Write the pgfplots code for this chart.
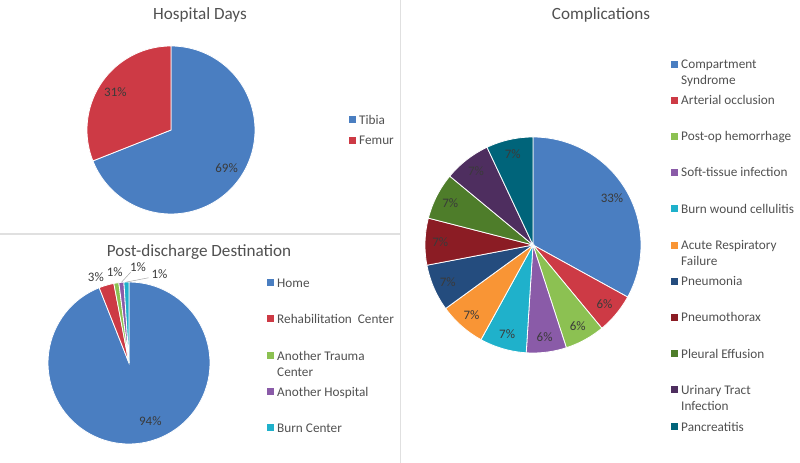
\documentclass[border=0pt]{standalone}
\usepackage{pgfplots}
\pgfplotsset{compat=1.18}
\usepackage{pgfplotstable}
\usepackage{fontspec}
\setmainfont{Carlito}

\definecolor{cBlue}{HTML}{4A7EC1}
\definecolor{cRed}{HTML}{CD3A45}
\definecolor{cGreen}{HTML}{8CC152}
\definecolor{cPurple}{HTML}{8A5BA8}
\definecolor{cCyan}{HTML}{1FB1CB}
\definecolor{cOrange}{HTML}{F99535}
\definecolor{cNavy}{HTML}{244C7E}
\definecolor{cMaroon}{HTML}{8B1C24}
\definecolor{cOlive}{HTML}{4E7D2A}
\definecolor{cPlum}{HTML}{4E2E5F}
\definecolor{cTeal}{HTML}{00647A}
\definecolor{txt}{HTML}{505050}
\definecolor{lbl}{HTML}{3A3A3A}
\definecolor{rulegray}{HTML}{E0E0E0}
\definecolor{leadgray}{HTML}{A6A6A6}

% value, colour, label radius and angle (999 = middle of slice),
% leader line end as radius and angle (radius 0 = no leader)
\pgfplotstableread{
value color lr la er ea
69 cBlue 0.8 999 0 0
31 cRed 0.8 999 0 0
}\hospdays

\pgfplotstableread{
value color lr la er ea
94 cBlue 0.77 -70 0 0
3 cRed 1.14 111 0 0
1 cGreen 1.13 99 0 0
1 cPurple 1.19 84.6 1.12 89
1 cCyan 1.16 71 1.08 77
}\discharge

\pgfplotstableread{
value color lr la er ea
33 cBlue 0.85 999 0 0
6 cRed 0.86 999 0 0
6 cGreen 0.86 999 0 0
6 cPurple 0.86 999 0 0
7 cCyan 0.86 999 0 0
7 cOrange 0.86 999 0 0
7 cNavy 0.86 999 0 0
7 cMaroon 0.86 999 0 0
7 cOlive 0.86 999 0 0
7 cPlum 0.86 999 0 0
7 cTeal 0.86 999 0 0
}\complications

% slices clockwise from 12 o'clock, as Excel draws them
\newcommand\piechart[1]{%
  \gdef\cum{0}%
  \pgfplotstablegetrowsof{#1}%
  \pgfmathtruncatemacro\last{\pgfplotsretval-1}%
  \foreach \i in {0,...,\last}{%
    \pgfplotstablegetelem{\i}{value}\of{#1}\let\v\pgfplotsretval
    \pgfplotstablegetelem{\i}{color}\of{#1}\let\c\pgfplotsretval
    \pgfplotstablegetelem{\i}{lr}\of{#1}\let\lr\pgfplotsretval
    \pgfplotstablegetelem{\i}{la}\of{#1}\let\la\pgfplotsretval
    \pgfplotstablegetelem{\i}{er}\of{#1}\let\er\pgfplotsretval
    \pgfplotstablegetelem{\i}{ea}\of{#1}\let\ea\pgfplotsretval
    \pgfmathsetmacro\a{90-3.6*\cum}%
    \pgfmathsetmacro\b{90-3.6*(\cum+\v)}%
    \pgfmathsetmacro\m{90-3.6*(\cum+\v/2)}%
    \ifdim\la pt>900pt \let\ang\m \else \let\ang\la \fi
    \pgfmathsetmacro\lx{\lr*cos(\ang)}%
    \pgfmathsetmacro\ly{\lr*sin(\ang)}%
    \edef\tmp{\noexpand\addplot[fill=\c, draw=white, line width=0.8pt,
        domain=\b:\a, samples=90] ({cos(x)},{sin(x)}) -- (0,0) -- cycle;
      \noexpand\node[pielabel] at (axis cs:\lx,\ly) {\v\noexpand\%};}%
    \tmp
    \ifdim\er pt>0pt
      \pgfmathsetmacro\sx{cos(\m)}\pgfmathsetmacro\sy{sin(\m)}%
      \pgfmathsetmacro\ex{\er*cos(\ea)}\pgfmathsetmacro\ey{\er*sin(\ea)}%
      \edef\tmp{\noexpand\draw[leadgray, line width=0.5pt]
        (axis cs:\sx,\sy) -- (axis cs:\ex,\ey);}%
      \tmp
    \fi
    \pgfmathsetmacro\nc{\cum+\v}\global\let\cum\nc
  }}

\pgfplotsset{pieaxis/.style={anchor=origin, scale only axis,
  xmin=-1, xmax=1, ymin=-1, ymax=1, hide axis, clip=false}}

\tikzset{
  pielabel/.style={font=\fontsize{13}{15}\selectfont, text=lbl, inner sep=0pt},
  title/.style={font=\fontsize{17.2}{20}\selectfont, text=txt, inner sep=0pt},
  legtext/.style={font=\fontsize{13.3}{15}\selectfont, text=txt, inner sep=0pt, anchor=base west}}

% colour, x, y (middle of the line), text; y counted from the top
\newcommand\legitem[4]{%
  \fill[#1] (#2bp-3.5bp,463bp-#3bp-3.5bp) rectangle ++(7bp,7bp);
  \node[legtext] at (#2bp+7bp,463bp-#3bp-4.3bp) {#4};}
\newcommand\legline[3]{%
  \node[legtext] at (#1bp+7bp,463bp-#2bp-4.3bp) {#3};}

\begin{document}
\begin{tikzpicture}
\path[use as bounding box] (0,0) rectangle (800bp,463bp);
\draw[rulegray, line width=1.2bp] (0,229bp) -- (400.5bp,229bp);
\draw[rulegray, line width=1.2bp] (400.5bp,0) -- (400.5bp,463bp);

\begin{axis}[pieaxis, at={(171bp,333bp)}, width=168bp, height=168bp]
\piechart{\hospdays}
\end{axis}

\begin{axis}[pieaxis, at={(129bp,100bp)}, width=162bp, height=162bp]
\piechart{\discharge}
\end{axis}

\begin{axis}[pieaxis, at={(533bp,218bp)}, width=216bp, height=216bp]
\piechart{\complications}
\end{axis}

\node[title] at (200bp,448bp) {Hospital Days};
\node[title] at (199bp,211bp) {Post-discharge Destination};
\node[title] at (601bp,448bp) {Complications};

\legitem{cBlue}{352}{120}{Tibia}
\legitem{cRed}{352}{140.5}{Femur}

\legitem{cBlue}{270}{283}{Home}
\legitem{cRed}{270}{319}{Rehabilitation\ \ Center}
\legitem{cGreen}{270}{356}{Another Trauma}
\legline{270}{372}{Center}
\legitem{cPurple}{270}{392}{Another Hospital}
\legitem{cCyan}{270}{428}{Burn Center}

\legitem{cBlue}{674}{64.5}{Compartment}
\legline{674}{80.5}{Syndrome}
\legitem{cRed}{674}{100.7}{Arterial occlusion}
\legitem{cGreen}{674}{136.5}{Post-op hemorrhage}
\legitem{cPurple}{674}{172.5}{Soft-tissue infection}
\legitem{cCyan}{674}{209}{Burn wound cellulitis}
\legitem{cOrange}{674}{245.3}{Acute Respiratory}
\legline{674}{261.3}{Failure}
\legitem{cNavy}{674}{281.7}{Pneumonia}
\legitem{cMaroon}{674}{317.7}{Pneumothorax}
\legitem{cOlive}{674}{354}{Pleural Effusion}
\legitem{cPlum}{674}{390}{Urinary Tract}
\legline{674}{406}{Infection}
\legitem{cTeal}{674}{426.7}{Pancreatitis}
\end{tikzpicture}
\end{document}
